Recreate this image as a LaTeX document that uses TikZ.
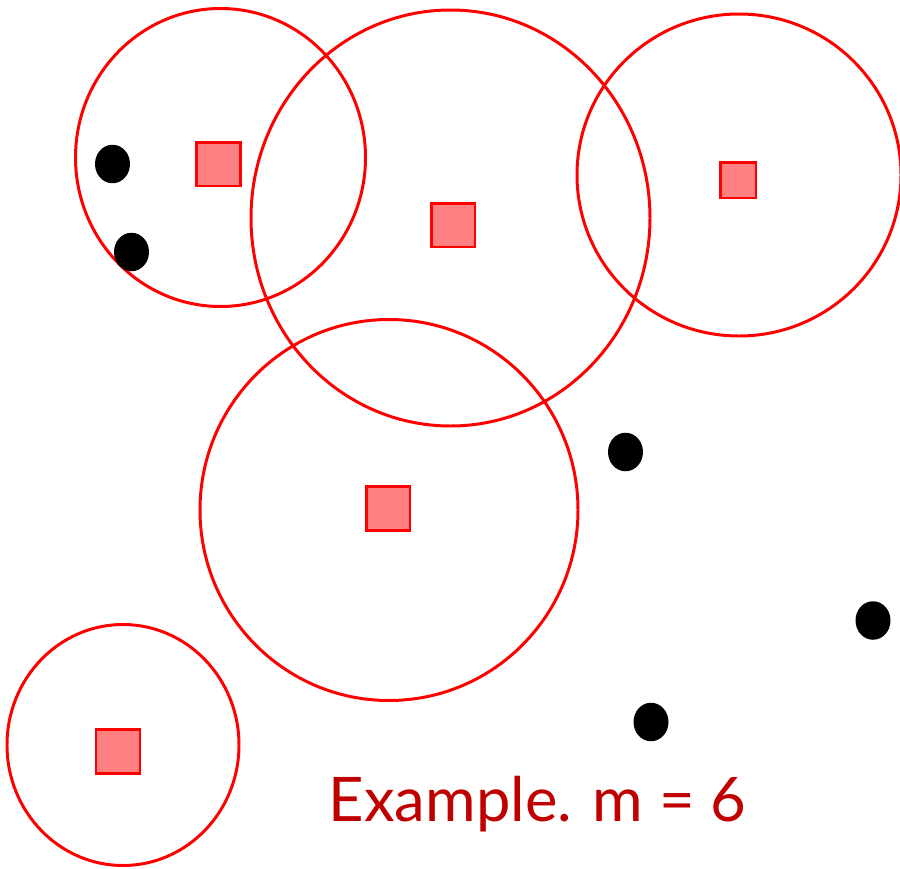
\documentclass[tikz,border=0pt]{standalone}
\usepackage{fontspec}
\newfontfamily\labelfont{Lato}
\usepackage{tikz}
\usetikzlibrary{shapes.geometric}
\usepackage{xcolor}
\definecolor{ringred}{HTML}{FF0000}
\definecolor{boxfill}{HTML}{FF8080}
\definecolor{textred}{HTML}{C00000}

\begin{document}
\begin{tikzpicture}[
    x=0.02cm, y=-0.02cm,
    ring/.style={draw=ringred, line width=1.7pt},
    center/.style={rectangle, draw=ringred, fill=boxfill, line width=1.7pt, inner sep=0pt, minimum size=0.88cm},
    point/.style={ellipse, fill=black, inner sep=0pt, minimum width=0.7cm, minimum height=0.77cm}
]
    \useasboundingbox (0,0) rectangle (900,869);

    % Coverage rings
    \draw[ring] (220.5,157.5) ellipse [x radius=145, y radius=149];
    \draw[ring] (450.5,218) ellipse [x radius=199.5, y radius=208];
    \draw[ring] (739,175) ellipse [x radius=162, y radius=161];
    \draw[ring] (389,510) ellipse [x radius=189, y radius=190.5];
    \draw[ring] (123,745) ellipse [x radius=116, y radius=120.5];

    % Chosen centres
    \node[center] (s1) at (218.5,164) {};
    \node[center] (s2) at (453,225) {};
    \node[center, minimum size=0.72cm] (s3) at (738,180) {};
    \node[center] (s4) at (388,508.5) {};
    \node[center] (s5) at (118,751.5) {};

    % Remaining points
    \node[point] (p1) at (112.5,164) {};
    \node[point] (p2) at (131.5,252) {};
    \node[point] (p3) at (625.5,452) {};
    \node[point] (p4) at (873,620.5) {};
    \node[point] (p5) at (651,722) {};

    % Caption
    \node[anchor=base, text=textred, font=\labelfont\fontsize{35}{40}\selectfont, inner sep=0pt] (caption) at (537.5,821.7) {Example. m = 6};
\end{tikzpicture}
\end{document}
